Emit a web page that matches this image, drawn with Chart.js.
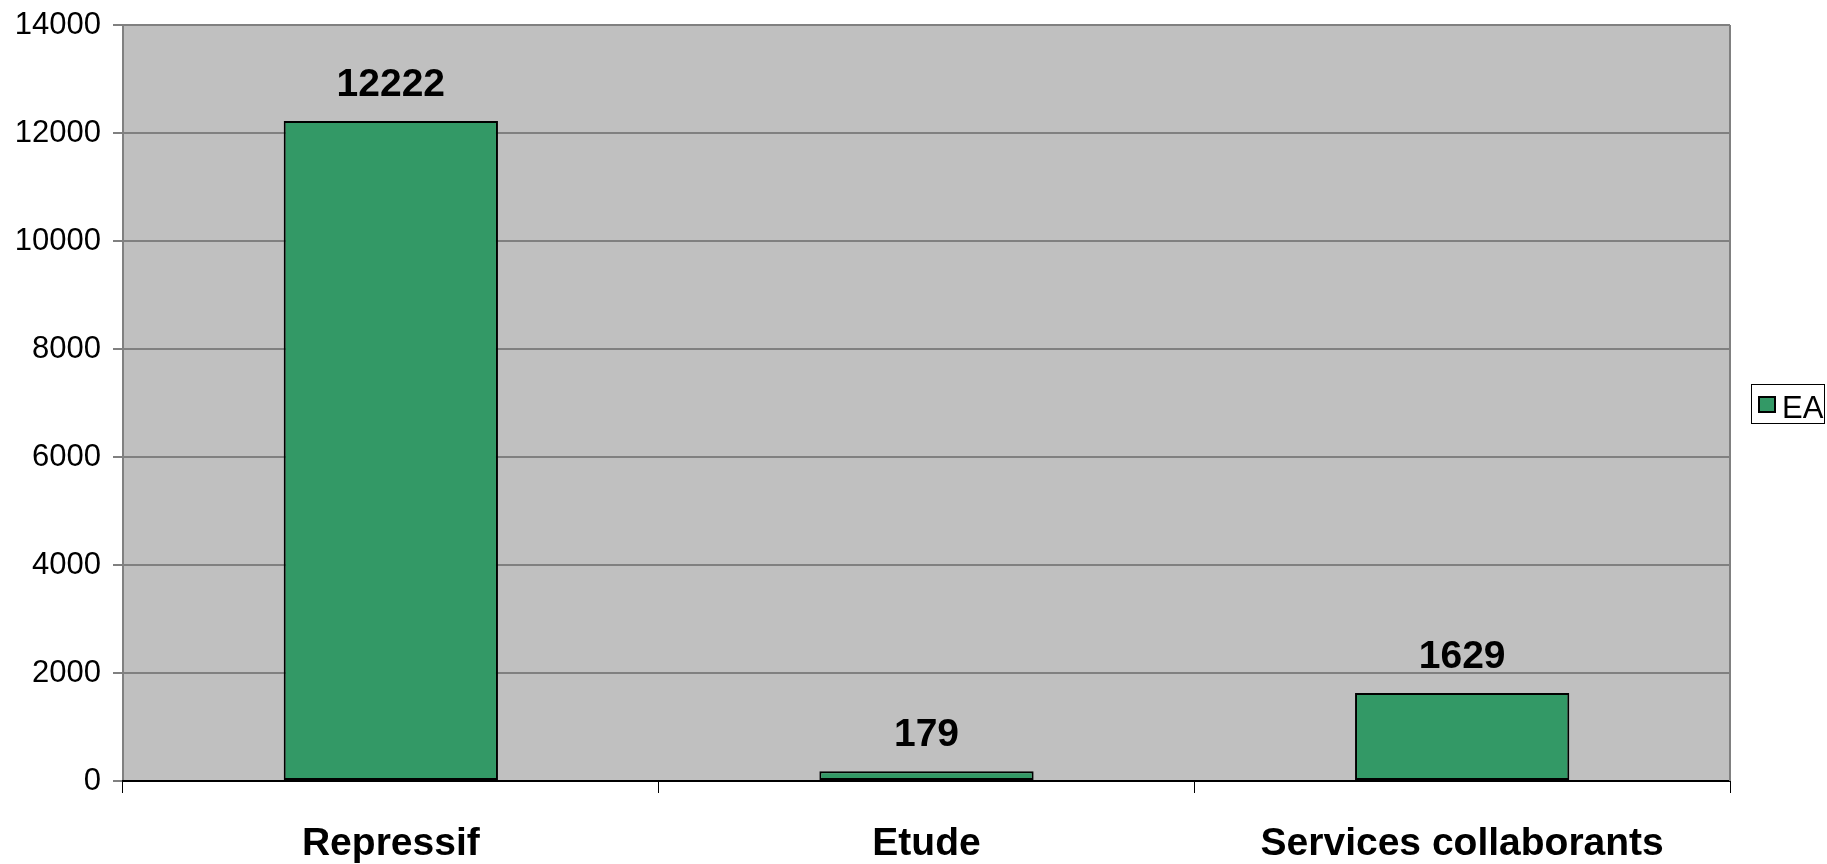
<!DOCTYPE html>
<html>
<head>
<meta charset="utf-8">
<script src="https://cdn.jsdelivr.net/npm/chart.js@4.4.1/dist/chart.umd.min.js"></script>
<style>
  body { margin: 0; background: #ffffff; }
  #wrap { width: 1827px; height: 864px; position: relative; }
</style>
</head>
<body>
<div id="wrap"><canvas id="ea_chart"></canvas></div>
<script>
const categories = ['Repressif', 'Etude', 'Services collaborants'];
const series_name = 'EA';
const ea_values = [12222, 179, 1629];
const y_min = 0;
const y_max = 14000;
const y_step = 2000;

const FONT = 'Arial, "Liberation Sans", sans-serif';

// grey plot area + grey right border
const plotBackground = {
    id: 'plotBackground',
    beforeDraw(chart) {
        const {ctx, chartArea} = chart;
        ctx.save();
        ctx.fillStyle = '#c0c0c0';
        ctx.fillRect(chartArea.left, chartArea.top, chartArea.right - chartArea.left, chartArea.bottom - chartArea.top);
        ctx.restore();
    },
    beforeDatasetsDraw(chart) {
        const {ctx, chartArea} = chart;
        ctx.save();
        ctx.strokeStyle = '#808080';
        ctx.lineWidth = 2;
        ctx.beginPath();
        ctx.moveTo(chartArea.right, chartArea.top);
        ctx.lineTo(chartArea.right, chartArea.bottom);
        ctx.stroke();
        ctx.restore();
    }
};

// bold value above every bar
const valueLabels = {
    id: 'valueLabels',
    afterDatasetsDraw(chart) {
        const {ctx} = chart;
        ctx.save();
        ctx.font = 'bold 39px ' + FONT;
        ctx.fillStyle = '#000000';
        ctx.textAlign = 'center';
        ctx.textBaseline = 'alphabetic';
        chart.data.datasets.forEach((ds, i) => {
            chart.getDatasetMeta(i).data.forEach((bar, j) => {
                ctx.fillText(String(ds.data[j]), bar.x, bar.y - 25);
            });
        });
        ctx.restore();
    }
};

// legend with a frame, like the office chart
const boxLegend = {
    id: 'boxLegend',
    afterDraw(chart) {
        const {ctx, chartArea} = chart;
        const ds = chart.data.datasets[0];
        const midY = (chartArea.top + chartArea.bottom) / 2;
        const left = chartArea.right + 21;
        const top = Math.round(midY - 19.5);
        ctx.save();
        ctx.strokeStyle = '#000000';
        ctx.lineWidth = 1;
        ctx.strokeRect(left + 0.5, top + 0.5, 73, 39);
        ctx.fillStyle = ds.backgroundColor;
        ctx.fillRect(left + 8, top + 13, 16, 15);
        ctx.lineWidth = 2;
        ctx.strokeRect(left + 8, top + 13, 16, 15);
        ctx.font = '31px ' + FONT;
        ctx.fillStyle = '#000000';
        ctx.textAlign = 'left';
        ctx.textBaseline = 'alphabetic';
        ctx.fillText(ds.label, left + 31, top + 34);
        ctx.restore();
    }
};

const data = {
    labels: categories,
    datasets: [{
        label: series_name,
        data: ea_values,
        backgroundColor: '#339966',
        borderColor: '#000000',
        borderWidth: 2,
        borderSkipped: false,
        barPercentage: 0.4,
        categoryPercentage: 1
    }]
};

const config = {
    type: 'bar',
    data: data,
    options: {
        responsive: true,
        maintainAspectRatio: false,
        animation: false,
        devicePixelRatio: 1,
        layout: {
            padding: {left: 14, top: 25, right: 97, bottom: 0}
        },
        scales: {
            y: {
                min: y_min, max: y_max,
                afterFit(scale) {
                    scale.width = 109;
                    scale.paddingTop = 0;
                    scale.paddingBottom = 0;
                },
                ticks: {
                    stepSize: y_step,
                    color: '#000000',
                    padding: 12,
                    font: {family: FONT, size: 31},
                    callback: (value) => String(value)
                },
                grid: {
                    color: '#808080',
                    lineWidth: 2,
                    tickLength: 10
                },
                border: {color: '#808080', width: 2}
            },
            x: {
                afterFit(scale) { scale.height = 83; },
                ticks: {
                    color: '#000000',
                    padding: 28,
                    font: {family: FONT, size: 39, weight: 'bold'}
                },
                grid: {
                    offset: true,
                    drawOnChartArea: false,
                    color: '#000000',
                    lineWidth: 1,
                    tickLength: 12
                },
                border: {color: '#000000', width: 2}
            }
        },
        plugins: {
            legend: {display: false},
            tooltip: {enabled: false},
            title: {display: false}
        }
    },
    plugins: [plotBackground, valueLabels, boxLegend]
};

const myChart = new Chart(document.getElementById('ea_chart'), config);
</script>
</body>
</html>
